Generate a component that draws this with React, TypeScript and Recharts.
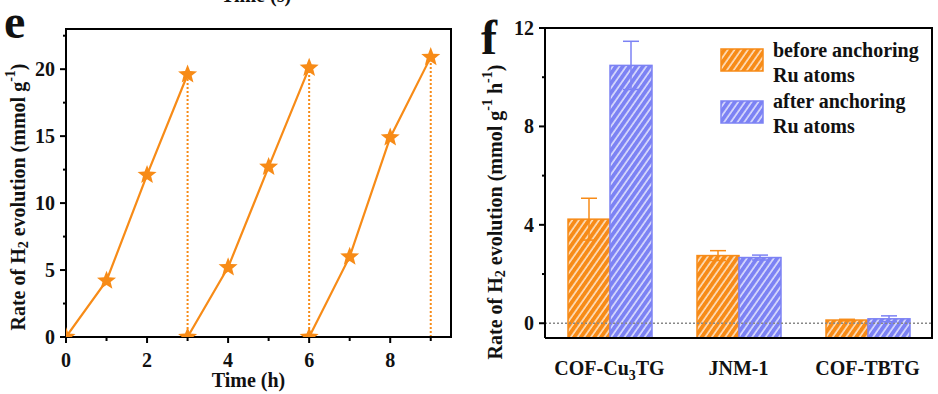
import React from "react";
import {
  LineChart,
  Line,
  XAxis,
  YAxis,
  BarChart,
  Bar,
  ErrorBar,
  ReferenceLine,
  Legend,
} from "recharts";

const FONT = '"Liberation Serif", "Times New Roman", serif';
const ORANGE = "#F78B17";
const BLUE = "#7C82F4";
const INK = "#111";

// panel e: H2 evolution over three cycles
const cycle1Time = [0, 1, 2, 3];
const cycle1Amount = [0, 4.2, 12.1, 19.6];
const cycle2Time = [3, 4, 5, 6];
const cycle2Amount = [0, 5.2, 12.7, 20.1];
const cycle3Time = [6, 7, 8, 9];
const cycle3Amount = [0, 6.0, 14.9, 20.9];
const timeTicks = [0, 1, 2, 3, 4, 5, 6, 7, 8, 9];
const amountTicks = [0, 2.5, 5, 7.5, 10, 12.5, 15, 17.5, 20, 22.5];
const timeDomain = [0, 9.5];
const amountDomain = [0, 23];

// panel f: rates before / after Ru anchoring
const catalysts = ["COF-Cu3TG", "JNM-1", "COF-TBTG"];
const beforeRate = [4.23, 2.75, 0.13];
const beforeErr = [0.85, 0.2, 0.03];
const afterRate = [10.48, 2.67, 0.18];
const afterErr = [0.98, 0.1, 0.12];
const rateTicks = [0, 2, 4, 6, 8, 10, 12];
const rateDomain = [-0.6, 12];
const legendLines = [
  ["before anchoring", "Ru atoms"],
  ["after anchoring", "Ru atoms"],
];

// layout of the two panels
const E_BOX = { left: 0, width: 470, height: 394, yAxisW: 66, xAxisH: 57 };
const F_BOX = { left: 470, width: 468, height: 394, yAxisW: 75, xAxisH: 56 };
const E_MARGIN = { top: 29, right: 19, bottom: 0, left: 0 };
const F_MARGIN = { top: 28, right: 6, bottom: 0, left: 0 };

const plotRect = (box: any, m: any) => ({
  x: box.left + m.left + box.yAxisW,
  y: m.top,
  w: box.width - m.left - m.right - box.yAxisW,
  h: box.height - m.top - m.bottom - box.xAxisH,
});

const cycles = [
  { time: cycle1Time, amount: cycle1Amount },
  { time: cycle2Time, amount: cycle2Amount },
  { time: cycle3Time, amount: cycle3Amount },
];
const cycleData = cycles.map((c) => c.time.map((t, i) => ({ x: t, y: c.amount[i] })));
const dropData = cycles.map((c) => {
  const n = c.time.length - 1;
  return [
    { x: c.time[n], y: 0 },
    { x: c.time[n], y: c.amount[n] },
  ];
});

const barData = catalysts.map((name, i) => ({
  name,
  before: beforeRate[i],
  beforeErr: beforeErr[i],
  after: afterRate[i],
  afterErr: afterErr[i],
}));

const txt = { fontFamily: FONT, fontWeight: 700, fontSize: 20, fill: INK };

const starPoints = (cx: number, cy: number, R: number, r: number) => {
  const pts = [];
  for (let i = 0; i < 10; i++) {
    const a = -Math.PI / 2 + (i * Math.PI) / 5;
    const rad = i % 2 === 0 ? R : r;
    pts.push(`${cx + rad * Math.cos(a)},${cy + rad * Math.sin(a)}`);
  }
  return pts.join(" ");
};

const StarDot = (props: any) => {
  const { cx, cy } = props;
  if (cx == null || cy == null) return null;
  return <polygon points={starPoints(cx, cy, 10, 4.3)} fill={ORANGE} />;
};

const TimeTick = ({ x, y, payload }: any) => {
  const major = payload.value % 2 === 0;
  return (
    <g>
      <line x1={x} x2={x} y1={y} y2={y + (major ? 6 : 4)} stroke="#000" strokeWidth={2} />
      {major && (
        <text x={x} y={y + 30} textAnchor="middle" {...txt}>
          {payload.value}
        </text>
      )}
    </g>
  );
};

const makeYTick = (step: number) => ({ x, y, payload }: any) => {
  const major = payload.value % step === 0;
  return (
    <g>
      <line x1={x - (major ? 6 : 3)} x2={x} y1={y} y2={y} stroke="#000" strokeWidth={2} />
      {major && (
        <text x={x - 11} y={y} dy="0.35em" textAnchor="end" {...txt}>
          {payload.value}
        </text>
      )}
    </g>
  );
};

const CatTick = ({ x, y, payload }: any) => {
  const v: string = payload.value;
  const m = v.match(/^(.*Cu)(\d)(.*)$/);
  return (
    <text x={x} y={y + 37} textAnchor="middle" {...txt}>
      {m ? (
        <>
          {m[1]}
          <tspan dy={5} fontSize={14}>
            {m[2]}
          </tspan>
          <tspan dy={-5}>{m[3]}</tspan>
        </>
      ) : (
        v
      )}
    </text>
  );
};

const RateTitle = ({ viewBox, dx, dyc, perHour }: any) => {
  const cx = viewBox.x + dx;
  const cy = viewBox.y + viewBox.height / 2 + dyc;
  return (
    <text
      x={cx}
      y={cy}
      transform={`rotate(-90 ${cx} ${cy})`}
      textAnchor="middle"
      dominantBaseline="central"
      {...txt}
    >
      Rate of H
      <tspan dy={5} fontSize={14}>
        2
      </tspan>
      <tspan dy={-5}> evolution (mmol g</tspan>
      <tspan dy={-8} fontSize={14}>
        -1
      </tspan>
      {perHour ? (
        <>
          <tspan dy={8}> h</tspan>
          <tspan dy={-8} fontSize={14}>
            -1
          </tspan>
          <tspan dy={8}>)</tspan>
        </>
      ) : (
        <tspan dy={8}>)</tspan>
      )}
    </text>
  );
};

const HatchDefs = ({ prefix }: { prefix: string }) => (
  <defs>
    {[
      ["before", ORANGE],
      ["after", BLUE],
    ].map(([k, c]) => (
      <pattern
        key={k}
        id={`${prefix}-${k}`}
        patternUnits="userSpaceOnUse"
        width={5.5}
        height={5.5}
        patternTransform="rotate(35)"
      >
        <rect width={5.5} height={5.5} fill={c} />
        <line x1={1} y1={0} x2={1} y2={5.5} stroke="#fff" strokeOpacity={0.85} strokeWidth={1.4} />
      </pattern>
    ))}
  </defs>
);

const HatchBar = (props: any) => {
  const { x, y, width, height, background, pattern, color } = props;
  const bottom = background ? background.y + background.height : y + height;
  return (
    <rect
      x={x}
      y={y}
      width={width}
      height={Math.max(0, bottom - y)}
      fill={`url(#${pattern})`}
      stroke={color}
      strokeWidth={1.5}
    />
  );
};

const RuLegend = () => (
  <svg width={215} height={100} style={{ display: "block" }}>
    <HatchDefs prefix="lg" />
    {legendLines.map((lines, i) => (
      <g key={i}>
        <rect
          x={1}
          y={9 + i * 52}
          width={42}
          height={22}
          fill={`url(#lg-${i === 0 ? "before" : "after"})`}
          stroke={i === 0 ? ORANGE : BLUE}
          strokeWidth={1.5}
        />
        {lines.map((l, j) => (
          <text key={j} x={53} y={17 + i * 51 + j * 25} {...txt}>
            {l}
          </text>
        ))}
      </g>
    ))}
  </svg>
);

const frameLine = { stroke: "#000", strokeWidth: 2 };

export default function App() {
  const rects = [plotRect(E_BOX, E_MARGIN), plotRect(F_BOX, F_MARGIN)];
  return (
    <div style={{ position: "absolute", left: 0, top: 0, width: 938, height: 394, background: "#fff" }}>
      <div style={{ position: "absolute", left: E_BOX.left, top: 0 }}>
        <LineChart width={E_BOX.width} height={E_BOX.height} margin={E_MARGIN}>
          <XAxis
            dataKey="x"
            type="number"
            domain={timeDomain}
            ticks={timeTicks}
            interval={0}
            allowDataOverflow
            height={E_BOX.xAxisH}
            tickSize={0}
            tickMargin={0}
            tickLine={false}
            axisLine={frameLine}
            tick={<TimeTick />}
            label={{
              content: ({ viewBox }: any) => (
                <text x={viewBox.x + viewBox.width / 2 - 10} y={viewBox.y + 50} textAnchor="middle" {...txt}>
                  Time (h)
                </text>
              ),
            }}
          />
          <YAxis
            type="number"
            domain={amountDomain}
            ticks={amountTicks}
            interval={0}
            allowDataOverflow
            width={E_BOX.yAxisW}
            tickSize={0}
            tickMargin={0}
            tickLine={false}
            axisLine={frameLine}
            tick={makeYTick(5)}
            label={{ content: (p: any) => <RateTitle viewBox={p.viewBox} dx={18} dyc={14} /> }}
          />
          {dropData.map((d, i) => (
            <Line
              key={`drop${i}`}
              data={d}
              dataKey="y"
              stroke={ORANGE}
              strokeWidth={2}
              strokeDasharray="2 2"
              dot={false}
              isAnimationActive={false}
            />
          ))}
          {cycleData.map((d, i) => (
            <Line
              key={`cyc${i}`}
              data={d}
              dataKey="y"
              stroke={ORANGE}
              strokeWidth={2.2}
              dot={<StarDot />}
              activeDot={false}
              isAnimationActive={false}
            />
          ))}
        </LineChart>
      </div>
      <div style={{ position: "absolute", left: F_BOX.left, top: 0 }}>
        <BarChart width={F_BOX.width} height={F_BOX.height} data={barData} margin={F_MARGIN} barSize={42} barGap={0}>
          <HatchDefs prefix="bar" />
          <XAxis
            dataKey="name"
            height={F_BOX.xAxisH}
            tickSize={0}
            tickMargin={0}
            tickLine={false}
            interval={0}
            axisLine={frameLine}
            tick={<CatTick />}
          />
          <YAxis
            type="number"
            domain={rateDomain}
            ticks={rateTicks}
            interval={0}
            allowDataOverflow
            width={F_BOX.yAxisW}
            tickSize={0}
            tickMargin={0}
            tickLine={false}
            axisLine={frameLine}
            tick={makeYTick(4)}
            label={{ content: (p: any) => <RateTitle viewBox={p.viewBox} dx={25} dyc={29} perHour /> }}
          />
          <ReferenceLine y={0} stroke="#888" strokeWidth={1.5} strokeDasharray="2 2" />
          <Legend
            layout="vertical"
            align="center"
            verticalAlign="middle"
            content={<RuLegend />}
            wrapperStyle={{ left: 250, top: 40, width: 215 }}
          />
          <Bar
            dataKey="before"
            name="before anchoring Ru atoms"
            fill={ORANGE}
            isAnimationActive={false}
            shape={(p: any) => <HatchBar {...p} pattern="bar-before" color={ORANGE} />}
          >
            <ErrorBar dataKey="beforeErr" width={8} stroke={ORANGE} strokeWidth={1.5} direction="y" />
          </Bar>
          <Bar
            dataKey="after"
            name="after anchoring Ru atoms"
            fill={BLUE}
            isAnimationActive={false}
            shape={(p: any) => <HatchBar {...p} pattern="bar-after" color={BLUE} />}
          >
            <ErrorBar dataKey="afterErr" width={8} stroke={BLUE} strokeWidth={1.5} direction="y" />
          </Bar>
        </BarChart>
      </div>
      {/* top and right edges of each plot box */}
      {rects.map((r, i) => (
        <div
          key={i}
          style={{
            position: "absolute",
            left: r.x - 1,
            top: r.y - 1,
            width: r.w,
            height: r.h,
            borderTop: "2px solid #000",
            borderRight: "2px solid #000",
            pointerEvents: "none",
          }}
        />
      ))}
      <svg width={938} height={394} style={{ position: "absolute", left: 0, top: 0, pointerEvents: "none" }}>
        <text x={256} y={2} textAnchor="middle" {...txt}>
          Time (s)
        </text>
        <text x={4} y={38} {...txt} fontSize={48}>
          e
        </text>
        <text x={481} y={54} {...txt} fontSize={48}>
          f
        </text>
      </svg>
    </div>
  );
}
